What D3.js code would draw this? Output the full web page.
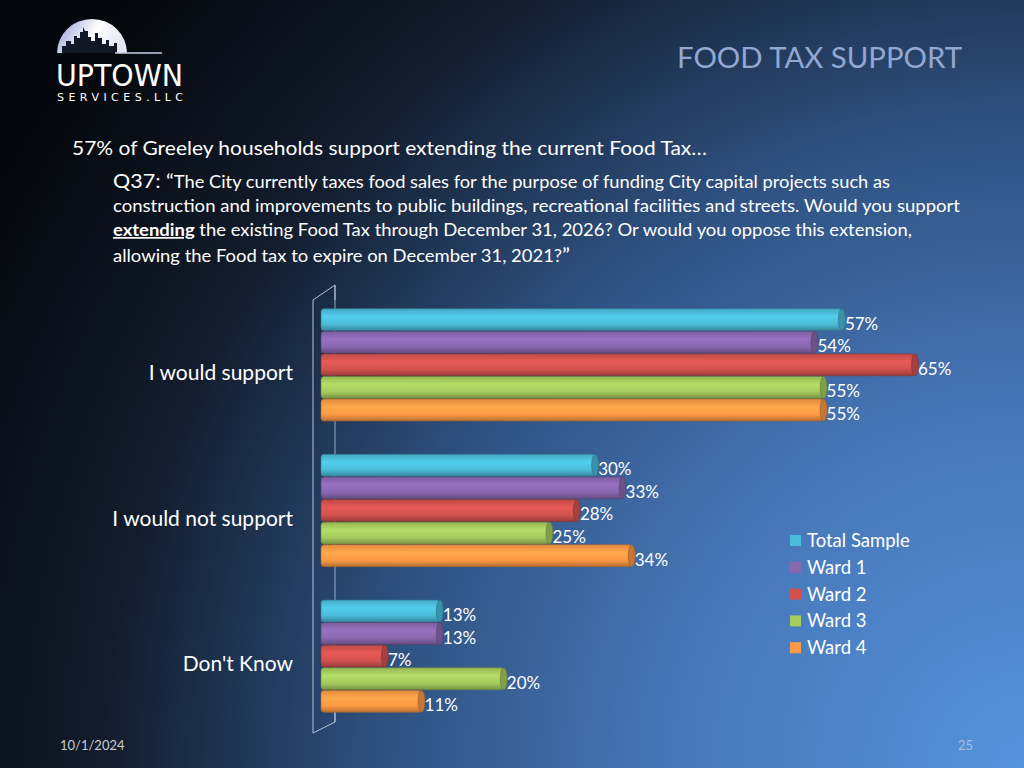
<!DOCTYPE html>
<meta charset="utf-8">
<style>
    body {
        margin: 0;
        width: 1024px;
        height: 768px;
        overflow: hidden;
        background: #05080c;
    }

    svg {
        display: block;
        font-family: Lato, "Open Sans", sans-serif;
    }

    .cat {
        font-size: 21px;
        fill: #ffffff;
    }

    .val {
        font-size: 17px;
        fill: #ffffff;
    }

    .legend text {
        font-size: 18.5px;
        fill: #ffffff;
    }
</style>

<body>
    <script src="https://d3js.org/d3.v7.min.js"></script>
    <script>

        // ---- data ----
        var categories = ["I would support", "I would not support", "Don't Know"];
        var series = ["Total Sample", "Ward 1", "Ward 2", "Ward 3", "Ward 4"];
        var totalSample = [57, 30, 13];
        var ward1 = [54, 33, 13];
        var ward2 = [65, 28, 7];
        var ward3 = [55, 25, 20];
        var ward4 = [55, 34, 11];
        var colors = ["#4bbcda", "#8a68b0", "#d3524f", "#a6cb5e", "#fd9a45"];

        var values = [totalSample, ward1, ward2, ward3, ward4];

        var width = 1024,
            height = 768;

        var svg = d3.select("body")
            .append("svg")
            .attr("width", width)
            .attr("height", height);

        var defs = svg.append("defs");

        // slide background
        var bg = defs.append("radialGradient")
            .attr("id", "bg")
            .attr("gradientUnits", "userSpaceOnUse")
            .attr("cx", 1024).attr("cy", 768).attr("r", 1180);
        [[0, "#5593dc"], [0.3, "#4777b8"], [0.55, "#2e507f"], [0.78, "#121c2c"], [1, "#04070b"]]
            .forEach(function (s) {
                bg.append("stop").attr("offset", s[0]).attr("stop-color", s[1]);
            });

        svg.append("rect")
            .attr("width", width)
            .attr("height", height)
            .attr("fill", "url(#bg)");

        // cylinder shading per series
        colors.forEach(function (c, i) {
            var g = defs.append("linearGradient")
                .attr("id", "cyl" + i)
                .attr("x1", 0).attr("y1", 0).attr("x2", 0).attr("y2", 1);
            var base = d3.color(c);
            g.append("stop").attr("offset", 0).attr("stop-color", base.darker(0.3));
            g.append("stop").attr("offset", 0.35).attr("stop-color", base.brighter(0.25));
            g.append("stop").attr("offset", 0.7).attr("stop-color", base);
            g.append("stop").attr("offset", 1).attr("stop-color", base.darker(0.9));
        });

        /* ------- LOGO ------- */
        var logo = svg.append("g");
        var dome = defs.append("linearGradient")
            .attr("id", "dome")
            .attr("x1", 0).attr("y1", 0).attr("x2", 1).attr("y2", 0.3);
        dome.append("stop").attr("offset", 0).attr("stop-color", "#8e9bd0");
        dome.append("stop").attr("offset", 0.6).attr("stop-color", "#ffffff");
        dome.append("stop").attr("offset", 1).attr("stop-color", "#e4e8f4");

        logo.append("path")
            .attr("d", "M57,53 A35,34 0 0 1 127,53 Z")
            .attr("fill", "url(#dome)");
        logo.append("path")
            .attr("d", "M62,53 L62,46 L66,46 L66,41 L71,41 L71,44 L74,44 L74,36 L77,36 L77,38 L80,38 L80,32 L83,32 L83,27 L85,31 L88,31 L88,37 L91,37 L91,41 L95,41 L95,33 L98,33 L98,38 L102,38 L102,44 L106,44 L106,40 L109,40 L109,46 L114,46 L114,43 L117,43 L117,53 Z")
            .attr("fill", "#101726");
        logo.append("line")
            .attr("x1", 115).attr("y1", 53).attr("x2", 162).attr("y2", 53)
            .attr("stroke", "#c9cfe6").attr("stroke-width", 1.5);
        logo.append("text")
            .attr("x", 56).attr("y", 86)
            .attr("textLength", 127).attr("lengthAdjust", "spacingAndGlyphs")
            .style("font-family", "'DejaVu Sans', sans-serif")
            .style("font-size", "30px")
            .attr("fill", "#ffffff")
            .text("UPTOWN");
        logo.append("text")
            .attr("x", 57).attr("y", 101)
            .attr("textLength", 126).attr("lengthAdjust", "spacing")
            .style("font-family", "'DejaVu Sans', sans-serif")
            .style("font-size", "11px")
            .attr("fill", "#ffffff")
            .text("SERVICES.LLC");

        /* ------- TITLES ------- */
        svg.append("text")
            .attr("x", 677).attr("y", 68)
            .attr("textLength", 285).attr("lengthAdjust", "spacingAndGlyphs")
            .style("font-size", "29px")
            .attr("fill", "#93a7d3")
            .text("FOOD TAX SUPPORT");

        svg.append("text")
            .attr("x", 72).attr("y", 155)
            .attr("textLength", 635).attr("lengthAdjust", "spacingAndGlyphs")
            .style("font-size", "20px")
            .attr("fill", "#ffffff")
            .text("57% of Greeley households support extending the current Food Tax…");

        var q = svg.append("g").attr("fill", "#ffffff")
            .style("font-size", "17px")
            .style("white-space", "pre");
        var l1 = q.append("text").attr("x", 113).attr("y", 188)
            .attr("textLength", 777).attr("lengthAdjust", "spacingAndGlyphs");
        l1.append("tspan").style("font-size", "20px").text("Q37: “");
        l1.append("tspan").text("The City currently taxes food sales for the purpose of funding City capital projects such as");
        q.append("text").attr("x", 113).attr("y", 212)
            .attr("textLength", 847).attr("lengthAdjust", "spacingAndGlyphs")
            .text("construction and improvements to public buildings, recreational facilities and streets. Would you support");
        var l3 = q.append("text").attr("x", 113).attr("y", 236)
            .attr("textLength", 799).attr("lengthAdjust", "spacingAndGlyphs");
        l3.append("tspan").style("font-weight", "bold").style("text-decoration", "underline").text("extending");
        l3.append("tspan").text(" the existing Food Tax through December 31, 2026?  Or would you oppose this extension,");
        var l4 = q.append("text").attr("x", 113).attr("y", 262)
            .attr("textLength", 457).attr("lengthAdjust", "spacingAndGlyphs");
        l4.append("tspan").text("allowing the Food tax to expire on December 31, 2021?");
        l4.append("tspan").style("font-size", "20px").text("”");

        /* ------- CHART ------- */
        var x = d3.scaleLinear()
            .domain([0, 65])
            .range([321, 915]);

        var y0 = d3.scaleBand()
            .domain(categories)
            .range([292, 729])
            .paddingInner(0.22)
            .paddingOuter(0.11);

        var y1 = d3.scaleBand()
            .domain(series)
            .range([0, y0.bandwidth()])
            .padding(0.03);

        // 3d wall outline
        var wall = svg.append("g")
            .attr("fill", "none")
            .attr("stroke", "#b8c4d8")
            .attr("stroke-width", 1);
        wall.append("polyline")
            .attr("points", [[313, 733], [313, 300], [335, 285], [335, 300]].join(" "));
        wall.append("polyline")
            .attr("points", [[313, 733], [335, 722], [335, 712]].join(" "));
        wall.append("line")
            .attr("x1", 335).attr("y1", 285).attr("x2", 335).attr("y2", 722)
            .attr("stroke-opacity", 0.8);

        var rows = [];
        categories.forEach(function (c, ci) {
            series.forEach(function (s, si) {
                rows.push({ cat: c, series: s, si: si, value: values[si][ci] });
            });
        });

        var bars = svg.append("g").selectAll("g.bar")
            .data(rows)
            .join("g")
            .attr("class", "bar")
            .attr("transform", function (d) {
                return "translate(0," + (y0(d.cat) + y1(d.series)) + ")";
            });

        var bh = y1.bandwidth();

        bars.append("rect")
            .attr("x", x(0))
            .attr("y", 0)
            .attr("width", function (d) { return x(d.value) - x(0); })
            .attr("height", bh)
            .attr("rx", 3)
            .attr("fill", function (d) { return "url(#cyl" + d.si + ")"; })
            .attr("stroke", function (d) { return d3.color(colors[d.si]).darker(1.2); })
            .attr("stroke-width", 0.6);

        bars.append("ellipse")
            .attr("cx", function (d) { return x(d.value); })
            .attr("cy", bh / 2)
            .attr("rx", 3.5)
            .attr("ry", bh / 2)
            .attr("fill", function (d) { return d3.color(colors[d.si]).darker(0.7); })
            .attr("stroke", function (d) { return d3.color(colors[d.si]).darker(1.4); })
            .attr("stroke-width", 0.6);

        bars.append("text")
            .attr("class", "val")
            .attr("x", function (d) { return x(d.value) + 3; })
            .attr("y", bh / 2 + 10)
            .text(function (d) { return d.value + "%"; });

        svg.append("g").selectAll("text.cat")
            .data(categories)
            .join("text")
            .attr("class", "cat")
            .attr("text-anchor", "end")
            .attr("x", 293)
            .attr("y", function (d) { return y0(d) + y0.bandwidth() / 2 + 15; })
            .text(function (d) { return d; });

        /* ------- LEGEND ------- */
        var legend = svg.append("g")
            .attr("class", "legend")
            .selectAll("g")
            .data(series)
            .join("g")
            .attr("transform", function (d, i) {
                return "translate(790," + (535 + i * 26.8) + ")";
            });

        legend.append("rect")
            .attr("width", 11)
            .attr("height", 11)
            .attr("fill", function (d, i) { return colors[i]; });

        legend.append("text")
            .attr("x", 17)
            .attr("y", 12)
            .text(function (d) { return d; });

        /* ------- FOOTER ------- */
        svg.append("text")
            .attr("x", 60).attr("y", 750)
            .style("font-size", "13px")
            .attr("fill", "#c8ccd4")
            .text("10/1/2024");

        svg.append("text")
            .attr("x", 973).attr("y", 750)
            .attr("text-anchor", "end")
            .style("font-size", "13px")
            .attr("fill", "#a9bfe2")
            .text("25");

    </script>
</body>
